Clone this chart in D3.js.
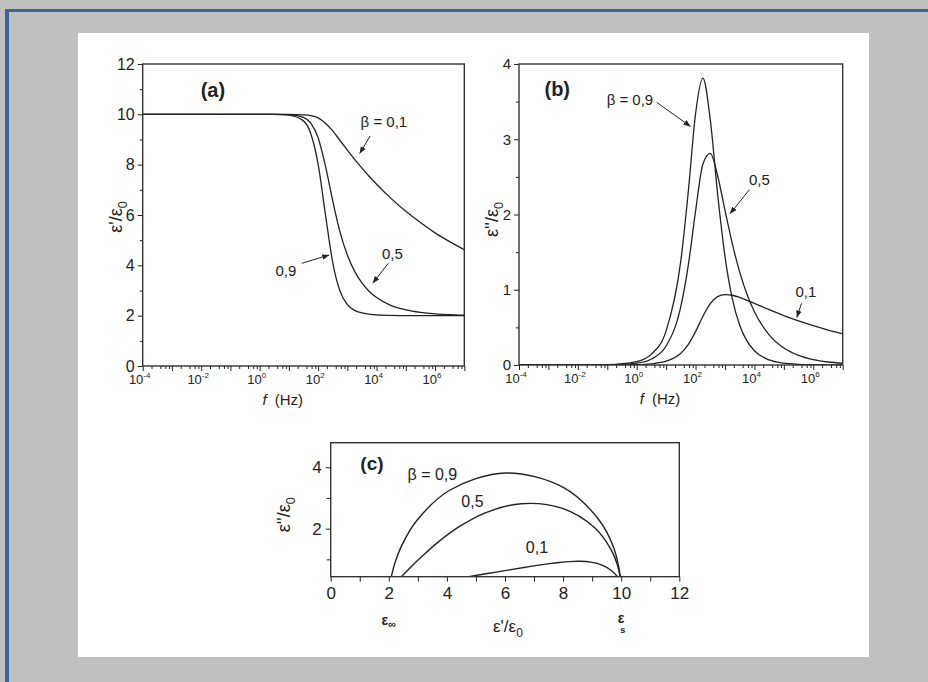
<!DOCTYPE html>
<html>
<head>
<meta charset="utf-8">
<script src="https://cdn.jsdelivr.net/npm/d3@7"></script>
<style>
  html, body { margin: 0; padding: 0; background: #c0c0c0; }
  svg { display: block; }
  text { font-family: "Liberation Sans Narrow", "Arial Narrow", "Liberation Sans", Arial, sans-serif; fill: #222; }
</style>
</head>
<body>
<svg id="chart" width="928" height="682"></svg>
<script>
const logFreq = [-4, -2, -1, 0, 0.5, 1, 1.5, 1.75, 2, 2.25, 2.5, 2.75, 3, 3.25, 3.5, 3.75, 4, 4.5, 5, 5.5, 6, 6.5, 7];

const epsReal09 = [10, 10, 10, 10, 10, 9.97, 9.74, 9.23, 8.02, 6.02, 4.11, 2.97, 2.44, 2.21, 2.11, 2.06, 2.03, 2.01, 2.0, 2.0, 2.0, 2.0, 2.0];
const epsReal05 = [10, 10, 10, 10, 10, 9.99, 9.88, 9.65, 9.07, 7.95, 6.56, 5.32, 4.41, 3.76, 3.3, 2.96, 2.72, 2.4, 2.23, 2.13, 2.07, 2.04, 2.02];
const epsReal01 = [10, 10, 10, 10, 10, 10, 9.98, 9.95, 9.86, 9.65, 9.34, 8.96, 8.58, 8.21, 7.86, 7.53, 7.22, 6.65, 6.15, 5.7, 5.29, 4.94, 4.62];

const epsLoss09 = [0, 0.0005, 0.0045, 0.045, 0.144, 0.453, 1.386, 2.291, 3.339, 3.813, 3.259, 2.273, 1.441, 0.88, 0.529, 0.317, 0.189, 0.067, 0.024, 0.0085, 0.003, 0.001, 0.0003];
const epsLoss05 = [0, 0.0003, 0.0025, 0.025, 0.08, 0.252, 0.779, 1.317, 2.044, 2.67, 2.813, 2.515, 2.055, 1.609, 1.234, 0.936, 0.707, 0.4, 0.225, 0.127, 0.071, 0.04, 0.023];
const epsLoss01 = [0, 0.0001, 0.0005, 0.005, 0.016, 0.05, 0.157, 0.271, 0.443, 0.647, 0.815, 0.908, 0.936, 0.927, 0.898, 0.86, 0.819, 0.735, 0.656, 0.585, 0.522, 0.465, 0.415];

const decadeLabels = [-4, -2, 0, 2, 4, 6];
const realTicks = [0, 2, 4, 6, 8, 10, 12];
const lossTicks = [0, 1, 2, 3, 4];
const coleXTicks = [0, 2, 4, 6, 8, 10, 12];
const coleYTicks = [2, 4];

const INK = '#222';
const svg = d3.select('#chart');
const W = 928, H = 682;
const fmt = d3.format('d');

svg.append('rect').attr('width', W).attr('height', H).attr('fill', '#c0c0c0');
svg.append('rect').attr('x', 78).attr('y', 33).attr('width', 791).attr('height', 624).attr('fill', '#fff');
svg.append('rect').attr('x', 5).attr('y', 9).attr('width', W - 5).attr('height', 3).attr('fill', '#3e6595');
svg.append('rect').attr('x', 5).attr('y', 9).attr('width', 4).attr('height', H - 9).attr('fill', '#3e6595');

const defs = svg.append('defs');
defs.append('marker')
  .attr('id', 'arrow')
  .attr('viewBox', '0 0 10 10')
  .attr('refX', 10).attr('refY', 5)
  .attr('markerWidth', 7).attr('markerHeight', 7)
  .attr('orient', 'auto')
  .append('path')
  .attr('d', 'M0,1 L10,5 L0,9 Z')
  .attr('fill', INK);

function zip(xs, ys) {
  return xs.map((v, i) => ({ x: v, y: ys[i] }));
}

function addClip(id, b) {
  defs.append('clipPath').attr('id', id)
    .append('rect')
    .attr('x', b.left).attr('y', b.top)
    .attr('width', b.right - b.left).attr('height', b.bottom - b.top);
}

function yLabel(g, x, y, size, primes) {
  const t = g.append('text')
    .attr('transform', `translate(${x},${y}) rotate(-90)`)
    .attr('text-anchor', 'middle')
    .attr('font-size', size);
  t.append('tspan').text('ε' + primes + '/ε');
  t.append('tspan').attr('font-size', size * 0.7).attr('dy', size * 0.3).text('0');
}

function note(g, x, y, text, size) {
  g.append('text')
    .attr('x', x).attr('y', y)
    .attr('text-anchor', 'middle')
    .attr('font-size', size)
    .text(text);
}

function arrow(g, x1, y1, x2, y2) {
  g.append('line')
    .attr('x1', x1).attr('y1', y1).attr('x2', x2).attr('y2', y2)
    .attr('stroke', INK).attr('stroke-width', 1)
    .attr('marker-end', 'url(#arrow)');
}

function freqPanel(opt) {
  const b = opt.box;
  const g = svg.append('g');
  const x = d3.scaleLog().domain([1e-4, 1e7]).range([b.left, b.right]);
  const y = d3.scaleLinear().domain([0, opt.yMax]).range([b.bottom, b.top]);

  // y ticks
  const ya = g.append('g').attr('transform', `translate(${b.left},0)`)
    .call(d3.axisLeft(y).tickValues(opt.yTicks).tickFormat(fmt).tickSize(5).tickSizeOuter(0).tickPadding(3));
  ya.select('.domain').remove();
  ya.selectAll('text').attr('font-size', opt.yFont).attr('font-family', null).attr('fill', INK);
  ya.selectAll('line').attr('stroke', INK);
  const ym = g.append('g').attr('transform', `translate(${b.left},0)`)
    .call(d3.axisLeft(y).tickValues(opt.yMinor).tickSize(3).tickSizeOuter(0).tickFormat(''));
  ym.select('.domain').remove();
  ym.selectAll('line').attr('stroke', INK);

  // x ticks: every decade long, 2/4/6/8 short
  const majors = d3.range(-4, 8).map(k => Math.pow(10, k));
  const minors = [];
  d3.range(-4, 7).forEach(k => [2, 4, 6, 8].forEach(m => minors.push(m * Math.pow(10, k))));
  const xa = g.append('g').attr('transform', `translate(0,${b.bottom})`)
    .call(d3.axisBottom(x).tickValues(majors).tickSize(5).tickSizeOuter(0).tickFormat(''));
  xa.select('.domain').remove();
  xa.selectAll('line').attr('stroke', INK);
  const xm = g.append('g').attr('transform', `translate(0,${b.bottom})`)
    .call(d3.axisBottom(x).tickValues(minors).tickSize(3).tickSizeOuter(0).tickFormat(''));
  xm.select('.domain').remove();
  xm.selectAll('line').attr('stroke', INK);

  decadeLabels.forEach(k => {
    const t = g.append('text')
      .attr('x', x(Math.pow(10, k)) - 3).attr('y', b.bottom + 18)
      .attr('text-anchor', 'middle')
      .attr('font-size', 13);
    t.append('tspan').text('10');
    t.append('tspan').attr('font-size', 8).attr('dy', -6).text(String(k));
  });

  const xl = g.append('text')
    .attr('x', (b.left + b.right) / 2 - 41).attr('y', b.bottom + 39)
    .attr('font-size', 15);
  xl.append('tspan').attr('font-style', 'italic').text('f');
  xl.append('tspan').attr('dx', 8).text('(Hz)');

  yLabel(g, opt.yLabelX, (b.top + b.bottom) / 2 + opt.yLabelDy, 18, opt.primes);

  // curves
  const clipId = 'clip-' + opt.tag;
  addClip(clipId, b);
  const line = d3.line()
    .x(d => x(Math.pow(10, d.x)))
    .y(d => y(d.y))
    .curve(d3.curveMonotoneX);
  g.append('g').attr('clip-path', `url(#${clipId})`)
    .selectAll('path')
    .data(opt.series)
    .join('path')
    .attr('d', s => line(zip(logFreq, s)))
    .attr('fill', 'none')
    .attr('stroke', INK)
    .attr('stroke-width', 1.3);

  // frame
  g.append('rect')
    .attr('x', b.left).attr('y', b.top)
    .attr('width', b.right - b.left).attr('height', b.bottom - b.top)
    .attr('fill', 'none').attr('stroke', '#333').attr('stroke-width', 1.4);

  g.append('text')
    .attr('x', x(Math.pow(10, opt.tagAt[0]))).attr('y', y(opt.tagAt[1]))
    .attr('text-anchor', 'middle')
    .attr('font-size', 20).attr('font-weight', 'bold')
    .text(`(${opt.tag})`);

  opt.notes.forEach(n => {
    note(g, x(Math.pow(10, n.text[0])), y(n.text[1]), n.label, 15);
    arrow(g, x(Math.pow(10, n.from[0])), y(n.from[1]), x(Math.pow(10, n.to[0])), y(n.to[1]));
  });
}

// (a) real part
freqPanel({
  tag: 'a',
  box: { left: 142.7, right: 464.3, top: 64, bottom: 366 },
  yMax: 12, yTicks: realTicks, yMinor: [1, 3, 5, 7, 9, 11], yFont: 16,
  series: [epsReal09, epsReal05, epsReal01],
  primes: "'", yLabelX: 122, yLabelDy: 2,
  tagAt: [-1.6, 10.7],
  notes: [
    { label: 'β = 0,1', text: [4.25, 9.48], from: [3.78, 9.14], to: [3.42, 8.44] },
    { label: '0,5', text: [4.54, 4.25], from: [4.4, 4.08], to: [3.87, 3.29] },
    { label: '0,9', text: [0.9, 3.58], from: [1.44, 4.08], to: [2.38, 4.41] }
  ]
});

// (b) loss part
freqPanel({
  tag: 'b',
  box: { left: 519, right: 842.7, top: 64, bottom: 365 },
  yMax: 4, yTicks: lossTicks, yMinor: [0.5, 1.5, 2.5, 3.5], yFont: 15,
  series: [epsLoss09, epsLoss05, epsLoss01],
  primes: "''", yLabelX: 498, yLabelDy: 5,
  tagAt: [-2.7, 3.57],
  notes: [
    { label: 'β = 0,9', text: [-0.23, 3.45], from: [0.68, 3.49], to: [1.83, 3.17] },
    { label: '0,5', text: [4.17, 2.39], from: [3.83, 2.33], to: [3.17, 2.01] },
    { label: '0,1', text: [5.75, 0.9], from: [5.6, 0.82], to: [5.44, 0.63] }
  ]
});

// (c) Cole-Cole plane built from the same readings
(function colePanel() {
  const b = { left: 330.7, right: 679.3, top: 442.7, bottom: 576.7 };
  const g = svg.append('g');
  const x = d3.scaleLinear().domain([0, 12]).range([b.left, b.right]);
  const y = d3.scaleLinear().domain([0.435, 4.8]).range([b.bottom, b.top]);

  const xa = g.append('g').attr('transform', `translate(0,${b.bottom})`)
    .call(d3.axisBottom(x).tickValues(coleXTicks).tickFormat(fmt).tickSize(5).tickSizeOuter(0).tickPadding(5));
  xa.select('.domain').remove();
  xa.selectAll('text').attr('font-size', 17).attr('font-family', null).attr('fill', INK);
  xa.selectAll('line').attr('stroke', INK);
  const xm = g.append('g').attr('transform', `translate(0,${b.bottom})`)
    .call(d3.axisBottom(x).tickValues([1, 3, 5, 7, 9, 11]).tickSize(5).tickSizeOuter(0).tickFormat(''));
  xm.select('.domain').remove();
  xm.selectAll('line').attr('stroke', INK);

  const ya = g.append('g').attr('transform', `translate(${b.left},0)`)
    .call(d3.axisLeft(y).tickValues(coleYTicks).tickFormat(fmt).tickSize(5).tickSizeOuter(0).tickPadding(4));
  ya.select('.domain').remove();
  ya.selectAll('text').attr('font-size', 17).attr('font-family', null).attr('fill', INK);
  ya.selectAll('line').attr('stroke', INK);
  const ym = g.append('g').attr('transform', `translate(${b.left},0)`)
    .call(d3.axisLeft(y).tickValues([1, 3]).tickSize(4).tickSizeOuter(0).tickFormat(''));
  ym.select('.domain').remove();
  ym.selectAll('line').attr('stroke', INK);

  addClip('clip-c', b);
  const line = d3.line().x(d => x(d.x)).y(d => y(d.y)).curve(d3.curveCatmullRom);
  g.append('g').attr('clip-path', 'url(#clip-c)')
    .selectAll('path')
    .data([[epsReal09, epsLoss09], [epsReal05, epsLoss05], [epsReal01, epsLoss01]])
    .join('path')
    .attr('d', s => line(zip(s[0], s[1])))
    .attr('fill', 'none')
    .attr('stroke', INK)
    .attr('stroke-width', 1.4);

  g.append('rect')
    .attr('x', b.left).attr('y', b.top)
    .attr('width', b.right - b.left).attr('height', b.bottom - b.top)
    .attr('fill', 'none').attr('stroke', '#333').attr('stroke-width', 1.4);

  g.append('text').attr('x', x(1.42)).attr('y', y(3.9))
    .attr('text-anchor', 'middle').attr('font-size', 19).attr('font-weight', 'bold').text('(c)');
  note(g, x(3.5), y(3.6), 'β = 0,9', 16);
  note(g, x(4.88), y(2.7), '0,5', 16);
  note(g, x(7.1), y(1.2), '0,1', 16);

  yLabel(g, 290, (b.top + b.bottom) / 2 + 5, 18, "''");

  const xl = g.append('text').attr('x', x(6.1)).attr('y', b.bottom + 55)
    .attr('text-anchor', 'middle').attr('font-size', 17);
  xl.append('tspan').text("ε'/ε");
  xl.append('tspan').attr('font-size', 12).attr('dy', 5).text('0');

  const einf = g.append('text').attr('x', x(2)).attr('y', b.bottom + 48)
    .attr('text-anchor', 'middle').attr('font-size', 14).attr('font-weight', 'bold');
  einf.append('tspan').text('ε');
  einf.append('tspan').attr('font-size', 11).attr('dy', 3).text('∞');

  g.append('text').attr('x', x(10)).attr('y', b.bottom + 46)
    .attr('text-anchor', 'middle').attr('font-size', 14).attr('font-weight', 'bold').text('ε');
  g.append('text').attr('x', x(10) + 1.5).attr('y', b.bottom + 56)
    .attr('text-anchor', 'middle').attr('font-size', 9).attr('font-weight', 'bold').text('s');
})();
</script>
</body>
</html>
